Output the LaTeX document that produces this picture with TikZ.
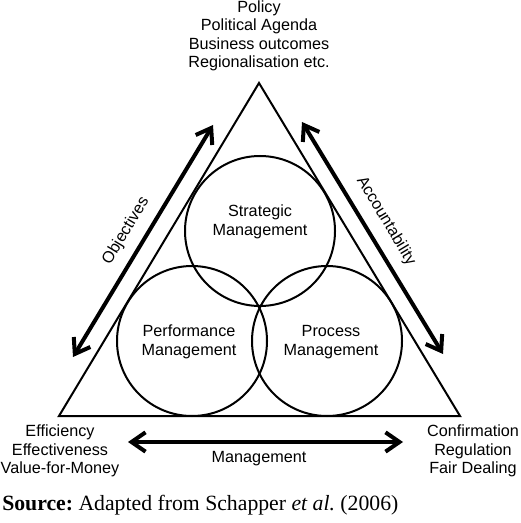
\documentclass[tikz,border=0pt]{standalone}
\usepackage{fontspec}
\setmainfont{Liberation Serif}
\setsansfont{Liberation Sans}
\usetikzlibrary{arrows.meta}
\frenchspacing

\begin{document}
\begin{tikzpicture}[x=0.75pt, y=-0.75pt,
    lbl/.style={font=\sffamily\fontsize{12.15}{13.9}\selectfont, align=center, inner sep=0pt},
    ring/.style={draw, line width=1.5pt, circle, minimum size=112.5pt, inner sep=0pt},
    bigarrow/.style={line width=3pt, {Straight Barb[length=10.5pt, width=14.5pt]}-{Straight Barb[length=10.5pt, width=14.5pt]}}]
    
    \useasboundingbox (0,0) rectangle (520,523);
    
    %Triangle
    \coordinate (apex) at (259,83);
    \coordinate (lcorner) at (59,416);
    \coordinate (rcorner) at (460,416);
    \draw[line width=1.5pt, line join=miter] (apex) -- (lcorner) -- (rcorner) -- cycle;
    
    %Circles
    \node[ring] (strat) at (260,231) {};
    \node[ring] (perf) at (192,341) {};
    \node[ring] (proc) at (327,341) {};
    \node[lbl] (strat-txt) at (260,222) {Strategic\\Management};
    \node[lbl] (perf-txt) at (189,342) {Performance\\Management};
    \node[lbl] (proc-txt) at (331,342) {Process\\Management};
    
    %Corner texts
    \node[lbl] (policy) at (259,36) {Policy\\Political Agenda\\Business outcomes\\Regionalisation etc.};
    \node[lbl] (effic) at (60,451) {Efficiency\\Effectiveness\\Value-for-Money};
    \node[lbl] (confirm) at (473,451) {Confirmation\\Regulation\\Fair Dealing};
    
    %Left arrow
    \coordinate (obj-lo) at (73,357);
    \coordinate (obj-hi) at (213,125);
    \draw[bigarrow] (obj-lo) -- (obj-hi);
    \node[lbl, rotate=59] (obj) at (126,231) {Objectives};
    
    %Right arrow
    \coordinate (acc-hi) at (302,122);
    \coordinate (acc-lo) at (443,354);
    \draw[bigarrow] (acc-hi) -- (acc-lo);
    \node[lbl, rotate=-59] (acc) at (386,221) {Accountability};
    
    %Bottom arrow
    \coordinate (man-l) at (128,442);
    \coordinate (man-r) at (403,442);
    \draw[bigarrow] (man-l) -- (man-r);
    \node[lbl] (man) at (259,459) {Management};
    
    %Source line
    \node[anchor=base west, inner sep=0pt, font=\fontsize{16.3}{18}\selectfont] (src) at (2,510) {\textbf{Source:} Adapted from Schapper \textit{et al.} (2006)};
    
\end{tikzpicture}
\end{document}
